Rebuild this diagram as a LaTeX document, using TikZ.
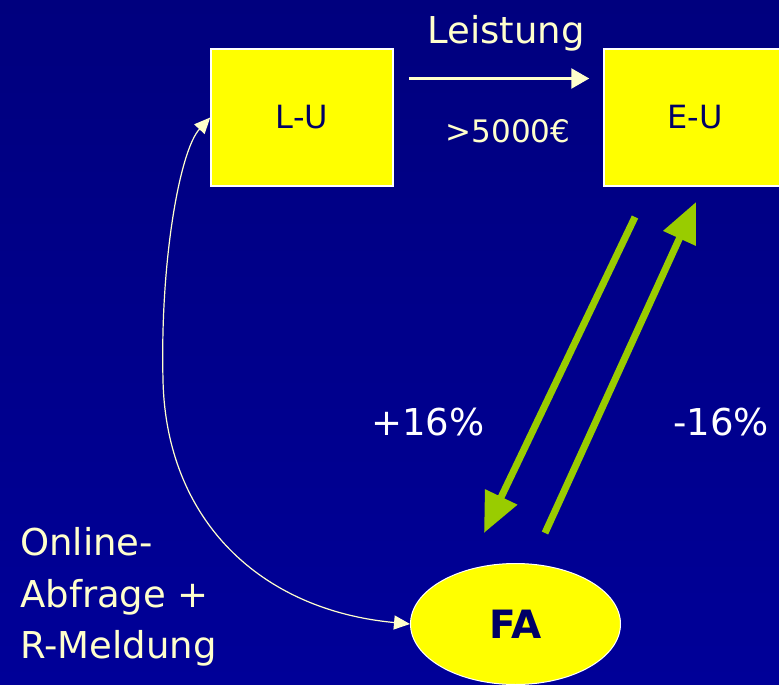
\documentclass[tikz,border=0pt]{standalone}
\usepackage{fontspec}
\setmainfont{DejaVu Sans}
\usetikzlibrary{arrows.meta, positioning, shapes.geometric}
\definecolor{bgtop}{RGB}{0,0,126}
\definecolor{bgbottom}{RGB}{0,0,152}
\definecolor{cream}{RGB}{255,255,204}
\definecolor{boxtext}{RGB}{0,0,102}
\definecolor{limegreen}{RGB}{153,204,0}
\definecolor{boxfill}{RGB}{255,255,0}

\begin{document}
\begin{tikzpicture}[x=1pt, y=-1pt,
  firm/.style={rectangle, draw=white, line width=1.5pt, fill=boxfill, minimum width=182pt, minimum height=137pt, inner sep=0pt, text=boxtext, font=\fontsize{32}{38}\selectfont},
  office/.style={ellipse, draw=white, line width=1pt, fill=boxfill, minimum width=210pt, minimum height=121pt, inner sep=0pt, text=boxtext, font=\fontsize{39}{44}\selectfont\bfseries},
  txt/.style={font=\fontsize{37}{50}\selectfont, text=cream, inner sep=0pt},
  flow/.style={limegreen, line width=7pt, -{Triangle[length=40pt, width=34pt]}},
  query/.style={cream, line width=1.2pt, {Triangle[length=16pt, width=14pt]}-{Triangle[length=16pt, width=14pt]}}]

  % background
  \fill[top color=bgtop, bottom color=bgbottom] (0,0) rectangle (779,685);
  \clip (0,0) rectangle (779,685);

  % companies and tax office
  \node[firm] (lu) at (302,117.5) {L-U};
  \node[firm] (eu) at (695,117.5) {E-U};
  \node[office] (fa) at (515.5,624) {FA};

  % service
  \draw[cream, line width=2.5pt, -{Triangle[length=18pt, width=20pt]}, shorten <=15pt, shorten >=14pt]
    ([yshift=39pt]lu.east) -- ([yshift=39pt]eu.west);
  \node[txt, anchor=base] (leist) at (506,44) {Leistung};
  \node[txt, anchor=base, font=\fontsize{31}{36}\selectfont] (amount) at (508,142) {>5000€};

  % VAT flows
  \coordinate (down0) at (635,217);
  \coordinate (down1) at (484,533);
  \coordinate (up0) at (545,533);
  \coordinate (up1) at (696,202);
  \draw[flow] (down0) -- (down1);
  \draw[flow] (up0) -- (up1);
  \node[txt, anchor=base, text=white] (plus) at (428,435) {+16\%};
  \node[txt, anchor=base, text=white] (minus) at (721,435) {-16\%};

  % online query
  \draw[query] (lu.west) .. controls (180,150) and (160,260) .. (163,380)
    .. controls (166,520) and (260,610) .. (fa.west);
  \foreach \line/\y [count=\i] in {Online-/555, Abfrage +/607, R-Meldung/658} {
    \node[txt, anchor=base west] (query\i) at (20,\y) {\line};
  }
\end{tikzpicture}
\end{document}
